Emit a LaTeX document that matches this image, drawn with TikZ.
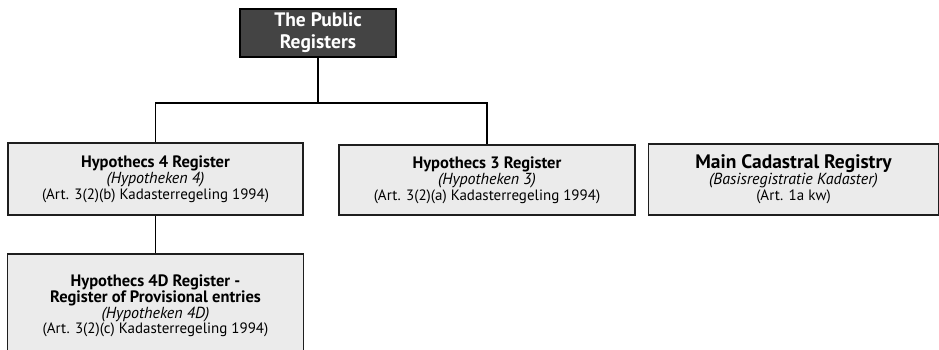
\documentclass[tikz,border=0pt]{standalone}
\usepackage{fontspec}
\setmainfont{PT Sans}
\usetikzlibrary{calc}
\definecolor{boxgray}{HTML}{EBEBEB}
\definecolor{topgray}{HTML}{444444}
\definecolor{edge}{HTML}{1E1E1E}
\newcommand{\ttl}[1]{{\fontsize{16.5}{16}\selectfont\bfseries #1}}
\newcommand{\itl}[1]{{\fontsize{16}{16}\selectfont\itshape #1}}
\begin{document}
\begin{tikzpicture}[x=1pt,y=1pt,
  regbox/.style={draw=edge,line width=1.8pt,fill=boxgray,inner sep=0pt,align=center,font=\fontsize{15}{16}\selectfont},
  topbox/.style={draw=black,line width=2pt,fill=topgray,text=white,inner sep=0pt,align=center,font=\fontsize{19.5}{22}\selectfont\bfseries},
  link/.style={draw=black,line width=1.8pt}]
\useasboundingbox (0,0) rectangle (939,349);
\clip (0,0) rectangle (939,349);
\node[topbox,minimum width=156,minimum height=48] (top) at (318,316) {The Public\\Registers};
\node[regbox,minimum width=295,minimum height=72] (h4) at (155.5,170) {\ttl{Hypothecs 4 Register}\\\itl{(Hypotheken 4)}\\(Art. 3(2)(b) Kadasterregeling 1994)};
\node[regbox,minimum width=296,minimum height=70] (h3) at (487,169) {\ttl{Hypothecs 3 Register}\\\itl{(Hypotheken 3)}\\(Art. 3(2)(a) Kadasterregeling 1994)};
\node[regbox,minimum width=290,minimum height=71] (mc) at (793.5,169.5) {{\fontsize{19.5}{17}\selectfont\bfseries Main Cadastral Registry}\\\itl{(Basisregistratie Kadaster)}\\(Art. 1a kw)};
\node[regbox,minimum width=296,minimum height=120,anchor=north] (h4d) at (155.5,96) {};
\node[align=center,inner sep=0pt,font=\fontsize{15}{15.8}\selectfont,anchor=center] (h4dt) at (155.5,43) {\ttl{Hypothecs 4D Register -}\\\ttl{Register of Provisional entries}\\\itl{(Hypotheken 4D)}\\(Art. 3(2)(c) Kadasterregeling 1994)};
\coordinate (fork) at ($(top.south)+(0,-45)$);
\draw[link] (top.south) -- (fork) -| (h4.north);
\draw[link] (fork) -| (h3.north);
\draw[link] (h4.south) -- (h4d.north);
\end{tikzpicture}
\end{document}
